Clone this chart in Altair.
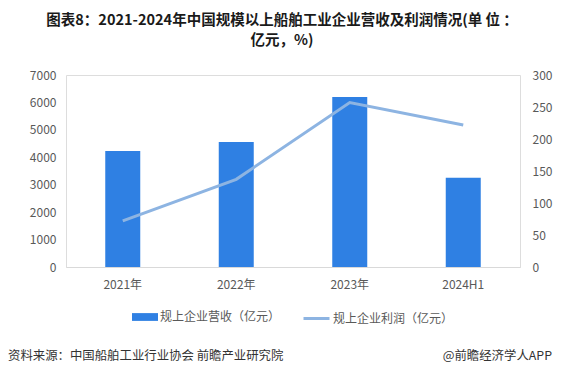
import altair as alt
import pandas as pd

years = ["2021年", "2022年", "2023年", "2024H1"]
revenue = [4230, 4560, 6200, 3250]
profit = [72, 137, 257, 222]
bar_name = "规上企业营收（亿元）"
line_name = "规上企业利润（亿元）"

df = pd.DataFrame({"year": years, "revenue": revenue, "profit": profit,
                   "s1": [bar_name] * 4, "s2": [line_name] * 4})

FONT = "Noto Sans CJK SC"
GRAY = "#595959"

x = alt.X("year:N", sort=years, title=None,
          scale=alt.Scale(paddingInner=0.69, paddingOuter=0.345),
          axis=alt.Axis(labelAngle=0, ticks=False, domainColor="#d9d9d9",
                        labelPadding=12, labelColor=GRAY, labelFontSize=12,
                        labelFont=FONT))

bars = alt.Chart(df).mark_bar(size=35).encode(
    x=x,
    y=alt.Y("revenue:Q", title=None,
            scale=alt.Scale(domain=[0, 7000]),
            axis=alt.Axis(values=list(range(0, 7001, 1000)), format="d", grid=False,
                          ticks=False, domain=False, labelPadding=10, labelColor=GRAY,
                          labelFontSize=12, labelFont=FONT)),
    color=alt.Color("s1:N", scale=alt.Scale(domain=[bar_name], range=["#2F80E3"]),
                    legend=alt.Legend(orient="none", legendX=66, legendY=229, title=None,
                                      symbolType="M-1,-0.3h2v0.6h-2z", symbolSize=676,
                                      labelFontSize=12, labelColor=GRAY, labelFont=FONT,
                                      labelOffset=2, symbolStrokeWidth=0)),
)

line = alt.Chart(df).mark_line(strokeWidth=3).encode(
    x=x,
    y=alt.Y("profit:Q", title=None,
            scale=alt.Scale(domain=[0, 300]),
            axis=alt.Axis(orient="right", values=list(range(0, 301, 50)), format="d",
                          grid=False, ticks=False, domain=False, labelPadding=12,
                          labelColor=GRAY, labelFontSize=12, labelFont=FONT)),
    stroke=alt.Stroke("s2:N", scale=alt.Scale(domain=[line_name], range=["#8DB4E2"]),
                      legend=alt.Legend(orient="none", legendX=236, legendY=229, title=None,
                                        symbolType="stroke", symbolSize=676,
                                        symbolStrokeWidth=3,
                                        labelFontSize=12, labelColor=GRAY, labelFont=FONT,
                                        labelOffset=2)),
)

one = pd.DataFrame({"a": [0]})
foot_left = alt.Chart(one).mark_text(align="left", baseline="middle", fontSize=12.4,
                                     font=FONT, color="#333333").encode(
    x=alt.value(-58), y=alt.value(281), text=alt.value("资料来源：中国船舶工业行业协会 前瞻产业研究院"))
foot_right = alt.Chart(one).mark_text(align="right", baseline="middle", fontSize=12.4,
                                      font=FONT, color="#333333").encode(
    x=alt.value(486), y=alt.value(281), text=alt.value("@前瞻经济学人APP"))

chart = alt.layer(bars, line, foot_left, foot_right).resolve_scale(
    y="independent", color="independent", stroke="independent"
).properties(
    width=454, height=192,
    autosize=alt.AutoSizeParams(type="none"),
    padding={"left": 58, "top": 67, "right": 34, "bottom": 103},
    title=alt.TitleParams(
        ["图表8：2021-2024年中国规模以上船舶工业企业营收及利润情况(单 位 ：", "亿元，%)"],
        font=FONT, fontSize=14.5, fontWeight="bold", color="#1a1a1a",
        anchor="middle", dx=-11, offset=21, lineHeight=20),
).configure_view(stroke=None).configure(background="white")

chart.save("out.html", embed_options={"renderer": "svg", "actions": False})
